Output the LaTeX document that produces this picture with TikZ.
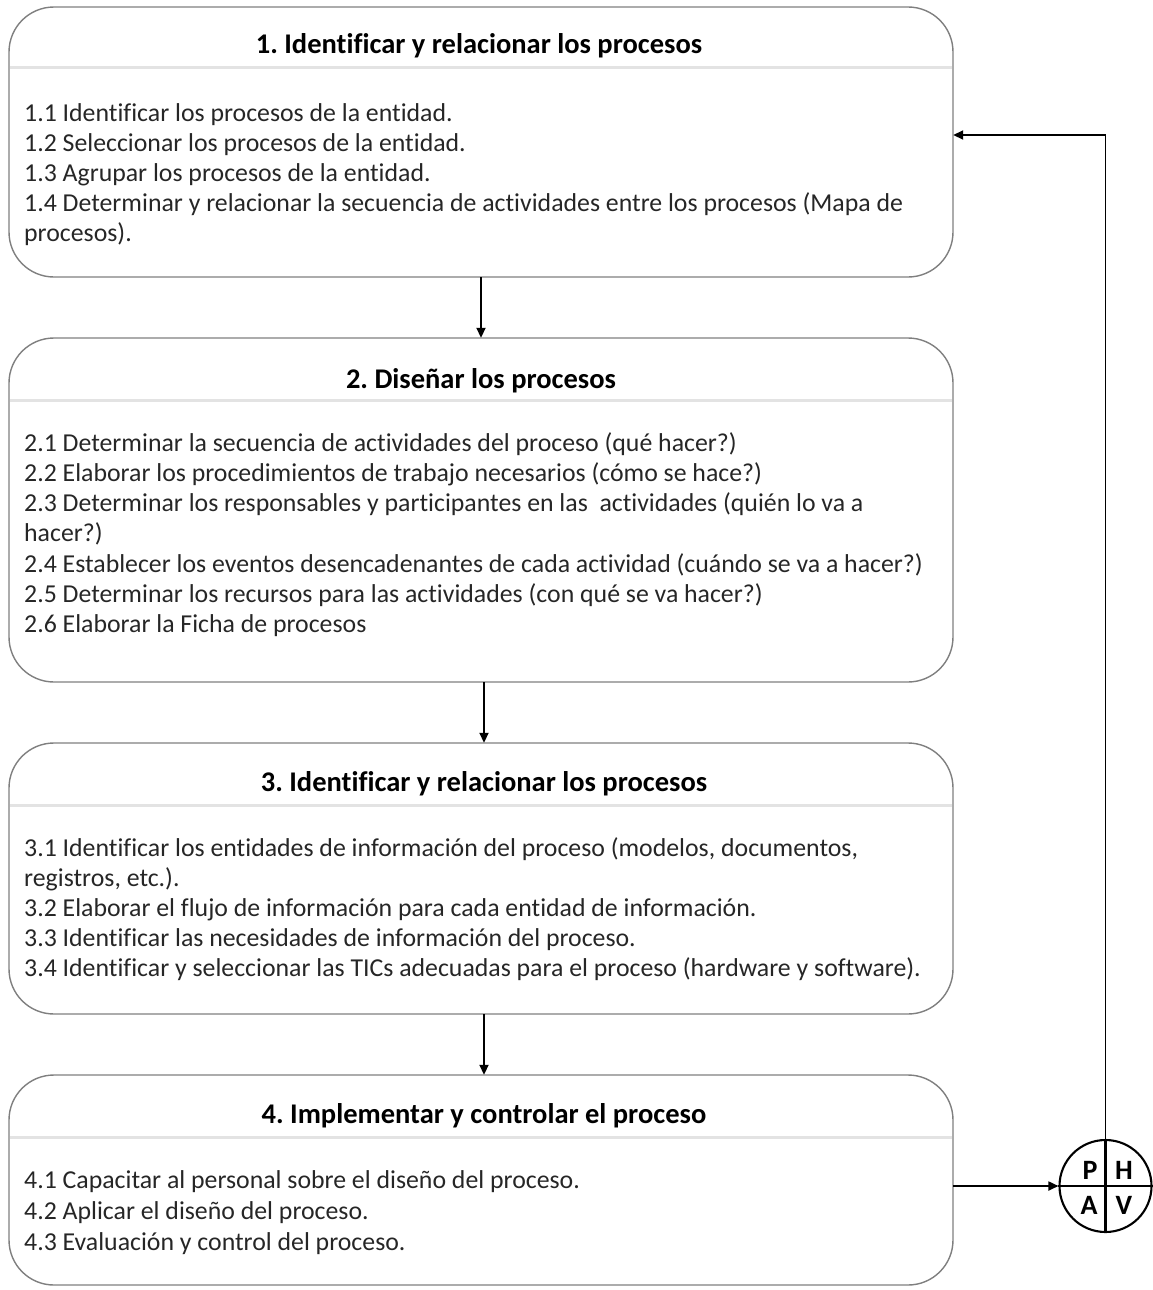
\documentclass[tikz,border=0pt]{standalone}
\usepackage{fontspec}
\setmainfont{Carlito}[Ligatures=NoCommon]
\usetikzlibrary{arrows.meta}
\definecolor{boxline}{HTML}{7F7F7F}
\definecolor{sepline}{HTML}{E3E3E3}
\definecolor{bodytxt}{HTML}{262626}
\tikzset{
  procbox/.style={draw=boxline, line width=1.4pt, rounded corners=45pt},
  sep/.style={draw=sepline, line width=3pt},
  ttl/.style={font=\fontsize{28.5}{34}\selectfont\bfseries, text=black, inner sep=0pt, anchor=base},
  body/.style={font=\fontsize{25.8}{31}\selectfont, text=bodytxt, anchor=base west, inner sep=0pt},
  arr/.style={draw=black, line width=1.8pt, -{Triangle[length=10pt,width=9pt]}},
  letter/.style={font=\fontsize{28}{28}\selectfont\bfseries, inner sep=0pt, anchor=base}
}
\begin{document}
\frenchspacing
\begin{tikzpicture}[x=1pt,y=-1pt]
\useasboundingbox (0,0) rectangle (1153,1290);
% boxes
\draw[procbox] (9,7) rectangle (953,277);
\node[inner sep=0pt, minimum width=944, minimum height=270] (b1) at (481,142) {};
\draw[procbox] (9,338) rectangle (953,682);
\node[inner sep=0pt, minimum width=944, minimum height=344] (b2) at (481,510) {};
\draw[procbox] (9,743) rectangle (953,1014);
\node[inner sep=0pt, minimum width=944, minimum height=271] (b3) at (481,878.5) {};
\draw[procbox] (9,1075) rectangle (953,1285);
\node[inner sep=0pt, minimum width=944, minimum height=210] (b4) at (481,1180) {};
% separators
\draw[sep] (10,68) -- (952,68);
\draw[sep] (10,400) -- (952,400);
\draw[sep] (10,805) -- (952,805);
\draw[sep] (10,1137) -- (952,1137);
% titles
\node[ttl] (t1) at (479,54) {1. Identificar y relacionar los procesos};
\node[ttl] (t2) at (481,388) {2. Diseñar los procesos};
\node[ttl] (t3) at (484,791) {3. Identificar y relacionar los procesos};
\node[ttl] (t4) at (484,1123) {4. Implementar y controlar el proceso};
% box 1 body
\node[body] (l11) at (24,121) {1.1 Identificar los procesos de la entidad.};
\node[body] (l12) at (24,151) {1.2 Seleccionar los procesos de la entidad.};
\node[body] (l13) at (24,181) {1.3 Agrupar los procesos de la entidad.};
\node[body] (l14) at (24,211) {1.4 Determinar y relacionar la secuencia de actividades entre los procesos (Mapa de};
\node[body] (l15) at (24,241) {procesos).};
% box 2 body
\node[body] (l21) at (24,451) {2.1 Determinar la secuencia de actividades del proceso (qué hacer?)};
\node[body] (l22) at (24,481) {2.2 Elaborar los procedimientos de trabajo necesarios (cómo se hace?)};
\node[body] (l23) at (24,511) {2.3 Determinar los responsables y participantes en las \ actividades (quién lo va a};
\node[body] (l24) at (24,541) {hacer?)};
\node[body] (l25) at (24,572) {2.4 Establecer los eventos desencadenantes de cada actividad (cuándo se va a hacer?)};
\node[body] (l26) at (24,602) {2.5 Determinar los recursos para las actividades (con qué se va hacer?)};
\node[body] (l27) at (24,632) {2.6 Elaborar la Ficha de procesos};
% box 3 body
\node[body] (l31) at (24,856) {3.1 Identificar los entidades de información del proceso (modelos, documentos,};
\node[body] (l32) at (24,886) {registros, etc.).};
\node[body] (l33) at (24,916) {3.2 Elaborar el flujo de información para cada entidad de información.};
\node[body] (l34) at (24,946) {3.3 Identificar las necesidades de información del proceso.};
\node[body] (l35) at (24,976) {3.4 Identificar y seleccionar las TICs adecuadas para el proceso (hardware y software).};
% box 4 body
\node[body] (l41) at (24,1188) {4.1 Capacitar al personal sobre el diseño del proceso.};
\node[body] (l42) at (24,1219) {4.2 Aplicar el diseño del proceso.};
\node[body] (l43) at (24,1250) {4.3 Evaluación y control del proceso.};
% PHAV circle
\node[circle, draw=black, line width=2.1pt, minimum size=92pt, inner sep=0pt] (phav) at (1105.5,1186) {};
\draw[black, line width=2.1pt] (phav.west) -- (phav.east);
\draw[black, line width=2.1pt] (phav.north) -- (phav.south);
\node[letter] (lp) at (1090,1179) {P};
\node[letter] (lh) at (1124,1179) {H};
\node[letter] (la) at (1089,1214) {A};
\node[letter] (lv) at (1124,1214) {V};
% connectors
\draw[arr] (b1.south) -- (b2.north);
\draw[arr] (b2.south -| 484,0) -- (b3.north -| 484,0);
\draw[arr] (b3.south -| 484,0) -- (b4.north -| 484,0);
\draw[arr] (b4.east |- phav.west) -- (phav.west);
\coordinate (fb) at (1105.5,135);
\draw[arr] (phav.north) |- (b1.east |- fb);
\end{tikzpicture}
\end{document}
